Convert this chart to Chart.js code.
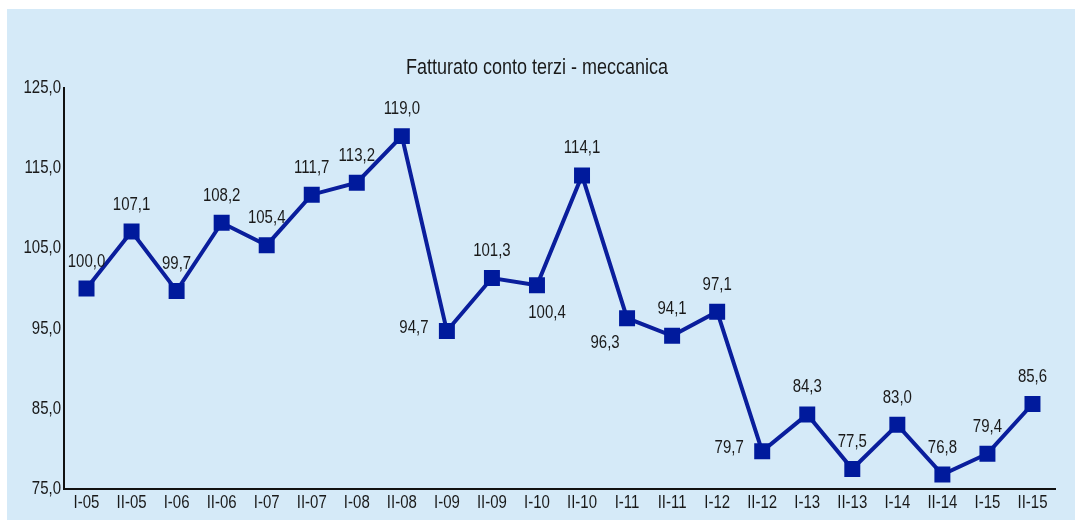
<!DOCTYPE html>
<html>
<head>
<meta charset="utf-8">
<script src="https://cdn.jsdelivr.net/npm/chart.js@4.4.1/dist/chart.umd.min.js"></script>
<style>
  body { margin: 0; background: #ffffff; }
  #panel { position: absolute; left: 7px; top: 9px; width: 1068px; height: 511px; background: #d5eaf8; }
  #panel canvas { display: block; }
</style>
</head>
<body>
<div id="panel"><canvas id="myChart" width="1068" height="511"></canvas></div>
<script>
// semesters
const periods = ['I-05', 'II-05', 'I-06', 'II-06', 'I-07', 'II-07', 'I-08', 'II-08', 'I-09', 'II-09', 'I-10',
                 'II-10', 'I-11', 'II-11', 'I-12', 'II-12', 'I-13', 'II-13', 'I-14', 'II-14', 'I-15', 'II-15'];
// fatturato index
const fatturato = [100.0, 107.1, 99.7, 108.2, 105.4, 111.7, 113.2, 119.0, 94.7, 101.3, 100.4,
                   114.1, 96.3, 94.1, 97.1, 79.7, 84.3, 77.5, 83.0, 76.8, 79.4, 85.6];
const yTicks = [75, 85, 95, 105, 115, 125];

// where each value label goes relative to its point
const labelSide = ['top', 'top', 'top', 'top', 'top', 'top', 'top', 'top', 'left', 'top', 'bottom',
                   'top', 'bottomLeft', 'top', 'top', 'left', 'top', 'top', 'top', 'top', 'top', 'top'];

function fmt(v) {
  return v.toFixed(1).replace('.', ',');
}

const FONT = '"Liberation Sans", Arial, sans-serif';
const TEXT_COLOR = '#1a1a1a';

// the font in this chart is a bit tall and narrow, so stretch it vertically
function tallText(ctx, text, x, y, size, align, stretch) {
  ctx.save();
  ctx.font = size + 'px ' + FONT;
  ctx.fillStyle = TEXT_COLOR;
  ctx.textAlign = align;
  ctx.textBaseline = 'middle';
  ctx.translate(x, y);
  ctx.scale(1, stretch || 1.22);
  ctx.fillText(text, 0, 0);
  ctx.restore();
}

const valueLabels = {
  id: 'valueLabels',
  afterDatasetsDraw(chart) {
    const ctx = chart.ctx;
    const meta = chart.getDatasetMeta(0);
    meta.data.forEach((pt, i) => {
      let dx = 0, dy = -27;
      if (labelSide[i] == 'left') { dx = -33; dy = -3; }
      if (labelSide[i] == 'bottom') { dx = 10; dy = 28; }
      if (labelSide[i] == 'bottomLeft') { dx = -22; dy = 25; }
      tallText(ctx, fmt(fatturato[i]), pt.x + dx, pt.y + dy, 15, 'center');
    });
  }
};

// axis labels and title
const axisText = {
  id: 'axisText',
  afterDraw(chart) {
    const ctx = chart.ctx;
    const area = chart.chartArea;
    const xs = chart.scales.x, ys = chart.scales.y;
    yTicks.forEach(v => {
      tallText(ctx, fmt(v), area.left - 3, ys.getPixelForValue(v), 15, 'right');
    });
    periods.forEach((p, i) => {
      tallText(ctx, p, xs.getPixelForValue(i), area.bottom + 14, 15, 'center');
    });
    tallText(ctx, 'Fatturato conto terzi - meccanica', 530, 59, 18, 'center', 1.25);
  }
};

const ctx = document.getElementById('myChart');

new Chart(ctx, {
  type: 'line',
  data: {
    labels: periods,
    datasets: [{
      data: fatturato,
      borderColor: '#0a1e9c',
      borderWidth: 4,
      pointStyle: 'rect',
      pointRadius: 11.3,
      pointBackgroundColor: '#001a9c',
      pointBorderColor: '#001a9c',
      pointBorderWidth: 0,
      tension: 0
    }]
  },
  plugins: [valueLabels, axisText],
  options: {
    responsive: false,
    animation: false,
    layout: { padding: { left: 0, right: 20, top: 79, bottom: 0 } },
    scales: {
      x: {
        offset: true,
        grid: { display: false, drawTicks: false },
        border: { display: true, color: '#111111', width: 2 },
        ticks: { display: false },
        afterFit(scale) { scale.height = 31; }
      },
      y: {
        min: 75,
        max: 125,
        grid: { display: false, drawTicks: false },
        border: { display: true, color: '#111111', width: 2 },
        ticks: { display: false, stepSize: 10 },
        afterFit(scale) { scale.width = 57; }
      }
    },
    plugins: {
      legend: { display: false },
      tooltip: { enabled: false }
    }
  }
});
</script>
</body>
</html>
